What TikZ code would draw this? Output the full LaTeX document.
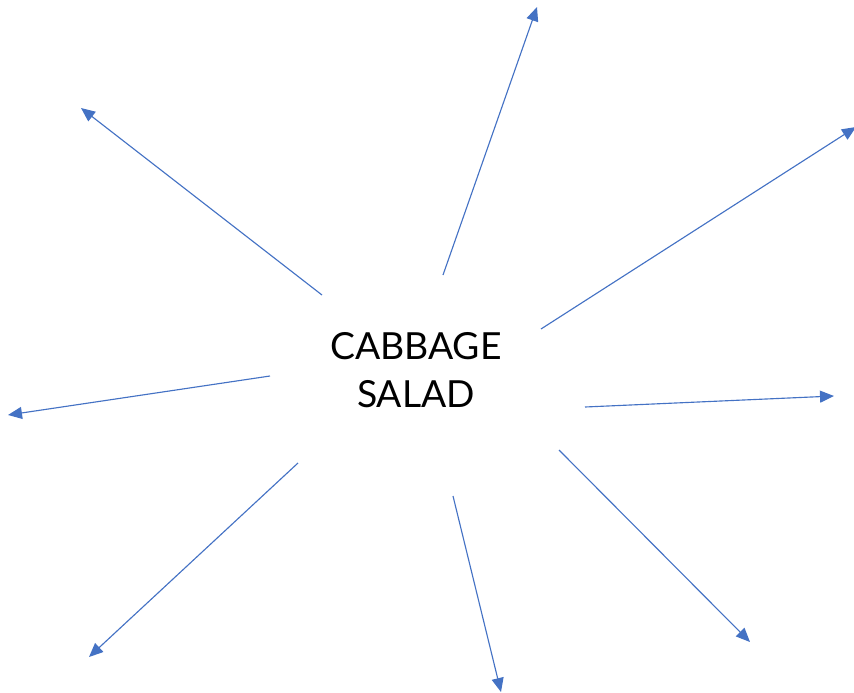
\documentclass[tikz,border=0pt]{standalone}
\usepackage{fontspec}
\setmainfont{Lato}
\usepackage{tikz}
\usetikzlibrary{arrows.meta}
\definecolor{offblue}{RGB}{68,114,196}

\begin{document}
\begin{tikzpicture}[x=0.75pt, y=-0.75pt,
        topic/.style={align=center, font=\fontsize{28}{36}\selectfont, inner sep=0pt},
        spoke/.style={-{Triangle[length=10.5pt, width=9pt]}, draw=offblue, line width=0.85pt}
      ]
      \useasboundingbox (0,0) rectangle (854,693);
      \node[topic] (salad) at (416,370) {CABBAGE\\SALAD};

      % start and end points of the spokes
      \coordinate (s1) at (443,275);  \coordinate (t1) at (537,7);
      \coordinate (s2) at (322,295);  \coordinate (t2) at (81,108);
      \coordinate (s3) at (541,329);  \coordinate (t3) at (856,127);
      \coordinate (s4) at (270,376);  \coordinate (t4) at (8,415);
      \coordinate (s5) at (585,407);  \coordinate (t5) at (834,396);
      \coordinate (s6) at (298,463);  \coordinate (t6) at (89,657);
      \coordinate (s7) at (453,496);  \coordinate (t7) at (501,692);
      \coordinate (s8) at (559,450);  \coordinate (t8) at (750,642);

      \draw[spoke] (s1) -- (t1);
      \draw[spoke] (s2) -- (t2);
      \draw[spoke] (s3) -- (t3);
      \draw[spoke] (s4) -- (t4);
      \draw[spoke] (s5) -- (t5);
      \draw[spoke] (s6) -- (t6);
      \draw[spoke] (s7) -- (t7);
      \draw[spoke] (s8) -- (t8);
    \end{tikzpicture}
\end{document}
